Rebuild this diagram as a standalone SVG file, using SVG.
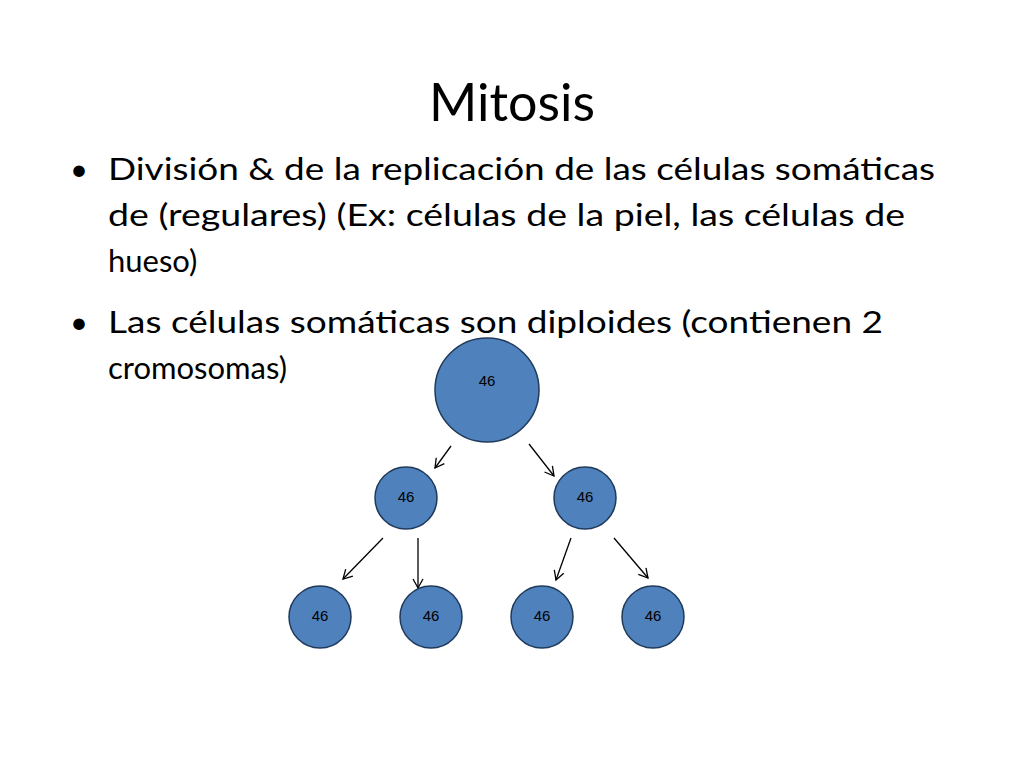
<svg xmlns="http://www.w3.org/2000/svg" width="1024" height="768" viewBox="0 0 1024 768">
<style>
.t{font-family:Lato,"Open Sans",sans-serif;fill:#000}
.b{font-size:31px}
.c{fill:#4f81bd;stroke:#1f3a5a;stroke-width:1.5}
.n{font-family:"Liberation Sans",Arial,sans-serif;font-size:15px;text-anchor:middle;fill:#000}
.a{stroke:#000;stroke-width:1.3;fill:none;marker-end:url(#ah)}
</style>
<defs><marker id="ah" markerWidth="14" markerHeight="14" refX="10" refY="6" orient="auto" markerUnits="userSpaceOnUse"><path d="M1,1 L10,6 L1,11" fill="none" stroke="#000" stroke-width="1.3"/></marker></defs>
<rect width="1024" height="768" fill="#fff"/>
<text class="t" x="512" y="121" font-size="52" text-anchor="middle">Mitosis</text>
<g class="t b">
<text x="70" y="180">•</text>
<text x="108" y="180" textLength="827" lengthAdjust="spacingAndGlyphs">División &amp; de la replicación de las células somáticas</text>
<text x="108" y="226" textLength="797" lengthAdjust="spacingAndGlyphs">de (regulares) (Ex: células de la piel, las células de</text>
<text x="108" y="272">hueso)</text>
<text x="70" y="333">•</text>
<text x="108" y="333" textLength="775" lengthAdjust="spacingAndGlyphs">Las células somáticas son diploides (contienen 2</text>
<text x="108" y="379">cromosomas)</text>
</g>
<g id="connectors">
<line class="a" x1="451" y1="446" x2="435" y2="468"/>
<line class="a" x1="529" y1="444" x2="554" y2="476"/>
<line class="a" x1="383" y1="538" x2="343" y2="579"/>
<line class="a" x1="418" y1="538" x2="418" y2="588"/>
<line class="a" x1="571" y1="538" x2="556" y2="580"/>
<line class="a" x1="614" y1="538" x2="648" y2="578"/>
</g>
<g id="n0"><circle class="c" cx="487" cy="390" r="52"/><text class="n" x="487" y="386" font-size="20">46</text></g>
<g id="n1"><circle class="c" cx="406" cy="498" r="31"/><text class="n" x="406" y="502">46</text></g>
<g id="n2"><circle class="c" cx="585" cy="498" r="31"/><text class="n" x="585" y="502">46</text></g>
<g id="n3"><circle class="c" cx="320" cy="617" r="31"/><text class="n" x="320" y="621">46</text></g>
<g id="n4"><circle class="c" cx="431" cy="617" r="31"/><text class="n" x="431" y="621">46</text></g>
<g id="n5"><circle class="c" cx="542" cy="617" r="31"/><text class="n" x="542" y="621">46</text></g>
<g id="n6"><circle class="c" cx="653" cy="617" r="31"/><text class="n" x="653" y="621">46</text></g>
</svg>
